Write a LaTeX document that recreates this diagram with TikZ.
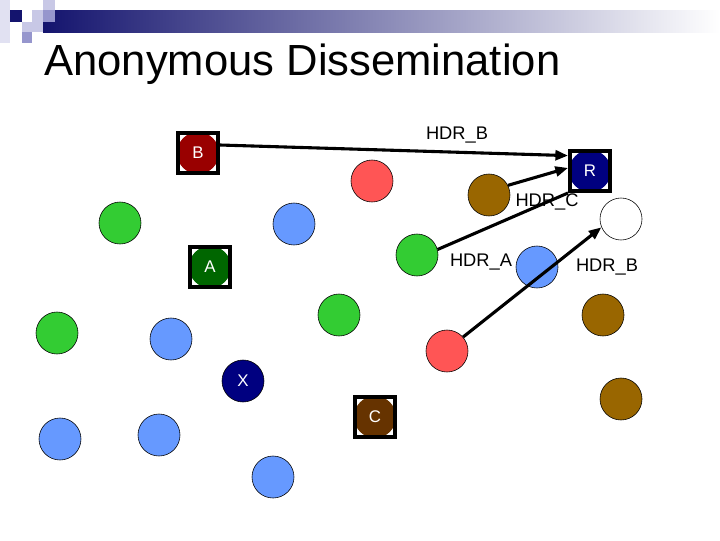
\documentclass[tikz,border=0pt]{standalone}
\usepackage{fontspec}
\setmainfont{Liberation Sans}
\usetikzlibrary{arrows.meta}
\definecolor{hostblue}{RGB}{102,153,255}
\definecolor{hostgreen}{RGB}{51,204,51}
\definecolor{hostred}{RGB}{255,85,85}
\definecolor{hostbrown}{RGB}{153,102,0}
\definecolor{srcred}{RGB}{153,0,0}
\definecolor{srcnavy}{RGB}{0,0,128}
\definecolor{srcgreen}{RGB}{0,102,0}
\definecolor{srcbrown}{RGB}{102,51,0}
\definecolor{barnavy}{RGB}{20,20,110}
\definecolor{tilepale}{RGB}{225,225,242}
\definecolor{tilelight}{RGB}{200,200,230}
\definecolor{tilemid}{RGB}{150,150,205}

\begin{document}
\begin{tikzpicture}[x=0.025cm,y=-0.025cm,
  every node/.style={font=\fontsize{13}{15}\selectfont},
  host/.style={circle,draw=black,thin,fill=#1,minimum size=1.05cm,inner sep=0pt},
  member/.style={circle,fill=#1,minimum size=1.05cm,inner sep=0pt,
    text=white,font=\fontsize{12}{14}\selectfont},
  memberbox/.style={rectangle,draw=black,line width=2.8pt,minimum size=1.0cm,inner sep=0pt},
  hdr/.style={-{Triangle[length=9pt,width=7pt]},line width=2.2pt}]
  \useasboundingbox (0,0) rectangle (720,540);
  % slide decoration
  \shade[left color=barnavy,right color=white] (43,10) rectangle (720,32);
  \fill[tilepale] (0,0) rectangle (10,43);
  \fill[tilelight] (43,0) rectangle (55,10);
  \fill[tilelight] (32,10) rectangle (43,22);
  \fill[tilemid] (43,10) rectangle (55,22);
  \fill[barnavy] (10,10) rectangle (22,22);
  \fill[tilelight] (22,22) rectangle (43,32);
  \fill[tilemid] (22,32) rectangle (32,43);
  \node[anchor=base west,inner sep=0pt,font=\fontsize{31}{36}\selectfont]
    (title) at (44,75) {Anonymous Dissemination};

  % hosts
  \node[host=hostred] (r1) at (372,181) {};
  \node[host=hostbrown] (n1) at (489,195) {};
  \node[host=hostgreen] (g1) at (120,223) {};
  \node[host=hostblue] (u1) at (294,224) {};
  \node[host=white] (w1) at (621,219) {};
  \node[host=hostgreen] (g2) at (417,255) {};
  \node[host=hostblue] (u2) at (537,267) {};
  \node[host=hostgreen] (g3) at (339,315) {};
  \node[host=hostbrown] (n2) at (603,315) {};
  \node[host=hostgreen] (g4) at (57,333) {};
  \node[host=hostblue] (u3) at (171,339) {};
  \node[host=hostred] (r2) at (447,351) {};
  \node[host=hostbrown] (n3) at (621,399) {};
  \node[host=hostblue] (u4) at (60,439) {};
  \node[host=hostblue] (u5) at (159,435) {};
  \node[host=hostblue] (u6) at (273,477) {};
  \node[member=srcnavy,draw=black,thin] (x) at (243,381) {X};

  % boxed members
  \node[member=srcred] (b) at (198,153) {B};
  \node[memberbox] (bbox) at (b) {};
  \node[member=srcnavy] (r) at (590,171) {R};
  \node[memberbox] (rbox) at (r) {};
  \node[member=srcgreen] (a) at (210,267) {A};
  \node[memberbox] (abox) at (a) {};
  \node[member=srcbrown] (c) at (375,417) {C};
  \node[memberbox] (cbox) at (c) {};

  % headers
  \draw[hdr] (bbox.20) -- (rbox.145);
  \draw[hdr] (n1.27) -- (rbox.172);
  \draw[line width=2.2pt] (g2.15) -- (rbox.south west);
  \draw[hdr] (r2.41) -- (w1.203);
  \node (hb1) at (457,135) {HDR\_B};
  \node (hc) at (547,202) {HDR\_C};
  \node (ha) at (481,262) {HDR\_A};
  \node (hb2) at (607,267) {HDR\_B};
\end{tikzpicture}
\end{document}
